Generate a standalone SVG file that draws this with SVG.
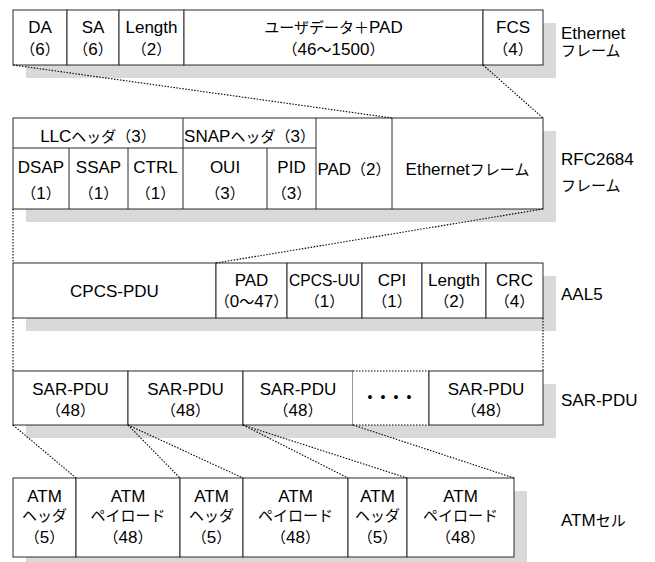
<svg xmlns="http://www.w3.org/2000/svg" width="655" height="562" viewBox="0 0 655 562">
<style>
.sh{fill:#d9d9d9;stroke:none}
.bx{fill:#fff;stroke:#2a2a2a;stroke-width:1}
.ln{stroke:#2a2a2a;stroke-width:1;fill:none}
.dot{stroke:#000;stroke-width:1.1;stroke-dasharray:1.5 1.5;fill:none}
text{font-family:"Liberation Sans","Noto Sans CJK JP",sans-serif;font-size:17px;fill:#000;text-anchor:middle}
.j{font-size:15px}
.lab{text-anchor:start}
</style>
<rect width="655" height="562" fill="#fff"/>

<!-- Ethernet frame -->
<g id="ethernet">
<rect class="sh" x="26" y="23" width="530" height="55"/>
<g id="eth-da"><rect class="bx" x="13" y="10" width="54" height="55"/><text x="40" y="33">DA</text><text x="40" y="55"><tspan class="j">（</tspan>6<tspan class="j">）</tspan></text></g>
<g id="eth-sa"><rect class="bx" x="67" y="10" width="52" height="55"/><text x="93" y="33">SA</text><text x="93" y="55"><tspan class="j">（</tspan>6<tspan class="j">）</tspan></text></g>
<g id="eth-len"><rect class="bx" x="119" y="10" width="65" height="55"/><text x="151.5" y="33">Length</text><text x="151.5" y="55"><tspan class="j">（</tspan>2<tspan class="j">）</tspan></text></g>
<g id="eth-data"><rect class="bx" x="184" y="10" width="299" height="55"/><text x="333.5" y="33"><tspan class="j">ユーザデータ＋</tspan>PAD</text><text x="333.5" y="55"><tspan class="j">（</tspan>46<tspan class="j">～</tspan>1500<tspan class="j">）</tspan></text></g>
<g id="eth-fcs"><rect class="bx" x="483" y="10" width="60" height="55"/><text x="513" y="33">FCS</text><text x="513" y="55"><tspan class="j">（</tspan>4<tspan class="j">）</tspan></text></g>
<g id="eth-label"><text class="lab" x="561" y="39">Ethernet</text><text class="lab" x="561" y="56"><tspan class="j">フレーム</tspan></text></g>
</g>

<!-- RFC2684 frame -->
<g id="rfc2684">
<rect class="sh" x="26" y="131" width="530" height="91"/>
<rect class="bx" x="13" y="118" width="530" height="91"/>
<path class="ln" d="M13 148H316M183 118V209M316 118V209M392 118V209M69 148V209M128 148V209M267 148V209"/>
<g id="llc"><text x="98" y="141.5">LLC<tspan class="j">ヘッダ（</tspan>3<tspan class="j">）</tspan></text></g>
<g id="snap"><text x="249.5" y="141.5">SNAP<tspan class="j">ヘッダ（</tspan>3<tspan class="j">）</tspan></text></g>
<g id="dsap"><text x="41" y="173">DSAP</text><text x="41" y="199"><tspan class="j">（</tspan>1<tspan class="j">）</tspan></text></g>
<g id="ssap"><text x="98.5" y="173">SSAP</text><text x="98.5" y="199"><tspan class="j">（</tspan>1<tspan class="j">）</tspan></text></g>
<g id="ctrl"><text x="155.5" y="173">CTRL</text><text x="155.5" y="199"><tspan class="j">（</tspan>1<tspan class="j">）</tspan></text></g>
<g id="oui"><text x="225" y="173">OUI</text><text x="225" y="199"><tspan class="j">（</tspan>3<tspan class="j">）</tspan></text></g>
<g id="pid"><text x="291.5" y="173">PID</text><text x="291.5" y="199"><tspan class="j">（</tspan>3<tspan class="j">）</tspan></text></g>
<g id="rfc-pad"><text x="354" y="175">PAD<tspan class="j">（</tspan>2<tspan class="j">）</tspan></text></g>
<g id="rfc-eth"><text x="467.5" y="175">Ethernet<tspan class="j">フレーム</tspan></text></g>
<g id="rfc-label"><text class="lab" x="561" y="165">RFC2684</text><text class="lab" x="561" y="191"><tspan class="j">フレーム</tspan></text></g>
</g>

<!-- AAL5 -->
<g id="aal5">
<rect class="sh" x="26" y="276" width="530" height="55"/>
<g id="cpcs-pdu"><rect class="bx" x="13" y="263" width="203" height="55"/><text x="114.5" y="297">CPCS-PDU</text></g>
<g id="aal-pad"><rect class="bx" x="216" y="263" width="71" height="55"/><text x="251.5" y="285.5">PAD</text><text x="251.5" y="307"><tspan class="j">（</tspan>0<tspan class="j">～</tspan>47<tspan class="j">）</tspan></text></g>
<g id="cpcs-uu"><rect class="bx" x="287" y="263" width="75" height="55"/><text x="324.5" y="285.5" textLength="71" lengthAdjust="spacingAndGlyphs">CPCS-UU</text><text x="324.5" y="307"><tspan class="j">（</tspan>1<tspan class="j">）</tspan></text></g>
<g id="cpi"><rect class="bx" x="362" y="263" width="60" height="55"/><text x="392" y="285.5">CPI</text><text x="392" y="307"><tspan class="j">（</tspan>1<tspan class="j">）</tspan></text></g>
<g id="aal-len"><rect class="bx" x="422" y="263" width="64" height="55"/><text x="454" y="285.5">Length</text><text x="454" y="307"><tspan class="j">（</tspan>2<tspan class="j">）</tspan></text></g>
<g id="crc"><rect class="bx" x="486" y="263" width="57" height="55"/><text x="514.5" y="285.5">CRC</text><text x="514.5" y="307"><tspan class="j">（</tspan>4<tspan class="j">）</tspan></text></g>
<g id="aal-label"><text class="lab" x="561" y="300">AAL5</text></g>
</g>

<!-- SAR-PDU -->
<g id="sar">
<rect class="sh" x="26" y="384" width="530" height="54"/>
<g id="sar1"><rect class="bx" x="13" y="371" width="115" height="54"/><text x="70.5" y="395">SAR-PDU</text><text x="70.5" y="416"><tspan class="j">（</tspan>48<tspan class="j">）</tspan></text></g>
<g id="sar2"><rect class="bx" x="128" y="371" width="115" height="54"/><text x="185.5" y="395">SAR-PDU</text><text x="185.5" y="416"><tspan class="j">（</tspan>48<tspan class="j">）</tspan></text></g>
<g id="sar3"><rect class="bx" x="243" y="371" width="110" height="54"/><text x="298" y="395">SAR-PDU</text><text x="298" y="416"><tspan class="j">（</tspan>48<tspan class="j">）</tspan></text></g>
<g id="sar-etc"><rect x="353" y="371" width="76" height="54" fill="#fff"/><path class="dot" d="M353 371H429M353 425H429"/><path class="ln" d="M429 371V425"/><text x="367.5" y="402" style="text-anchor:start;font-size:14px;letter-spacing:8.1px">••••</text></g>
<g id="sar4"><rect class="bx" x="429" y="371" width="114" height="54"/><text x="486" y="395">SAR-PDU</text><text x="486" y="416"><tspan class="j">（</tspan>48<tspan class="j">）</tspan></text></g>
<g id="sar-label"><text class="lab" x="561" y="406">SAR-PDU</text></g>
</g>

<!-- ATM cells -->
<g id="atm">
<rect class="sh" x="26" y="491" width="501" height="80"/>
<g id="atm-h1"><rect class="bx" x="13" y="478" width="63" height="79"/><text x="44.5" y="501.5">ATM</text><text x="44.5" y="521"><tspan class="j">ヘッダ</tspan></text><text x="44.5" y="543"><tspan class="j">（</tspan>5<tspan class="j">）</tspan></text></g>
<g id="atm-p1"><rect class="bx" x="76" y="478" width="104" height="79"/><text x="128" y="501.5">ATM</text><text x="128" y="521"><tspan class="j">ペイロード</tspan></text><text x="128" y="543"><tspan class="j">（</tspan>48<tspan class="j">）</tspan></text></g>
<g id="atm-h2"><rect class="bx" x="180" y="478" width="63" height="79"/><text x="211.5" y="501.5">ATM</text><text x="211.5" y="521"><tspan class="j">ヘッダ</tspan></text><text x="211.5" y="543"><tspan class="j">（</tspan>5<tspan class="j">）</tspan></text></g>
<g id="atm-p2"><rect class="bx" x="243" y="478" width="105" height="79"/><text x="295.5" y="501.5">ATM</text><text x="295.5" y="521"><tspan class="j">ペイロード</tspan></text><text x="295.5" y="543"><tspan class="j">（</tspan>48<tspan class="j">）</tspan></text></g>
<g id="atm-h3"><rect class="bx" x="348" y="478" width="59" height="79"/><text x="377.5" y="501.5">ATM</text><text x="377.5" y="521"><tspan class="j">ヘッダ</tspan></text><text x="377.5" y="543"><tspan class="j">（</tspan>5<tspan class="j">）</tspan></text></g>
<g id="atm-p3"><rect class="bx" x="407" y="478" width="107" height="79"/><text x="460.5" y="501.5">ATM</text><text x="460.5" y="521"><tspan class="j">ペイロード</tspan></text><text x="460.5" y="543"><tspan class="j">（</tspan>48<tspan class="j">）</tspan></text></g>
<g id="atm-label"><text class="lab" x="561" y="526">ATM<tspan class="j">セル</tspan></text></g>
</g>

<!-- connectors -->
<g id="connectors">
<path class="dot" d="M13 65L392 118"/>
<path class="dot" d="M483 65L543 118"/>
<path class="dot" d="M13 209V263"/>
<path class="dot" d="M543 209L216 263"/>
<path class="dot" d="M13 318V371"/>
<path class="dot" d="M543 318V371"/>
<path class="dot" d="M13 425L76 478"/>
<path class="dot" d="M128 425L180 478"/>
<path class="dot" d="M128 425L243 478"/>
<path class="dot" d="M243 425L348 478"/>
<path class="dot" d="M243 425L407 478"/>
<path class="dot" d="M353 425L514 478"/>
</g>
</svg>
